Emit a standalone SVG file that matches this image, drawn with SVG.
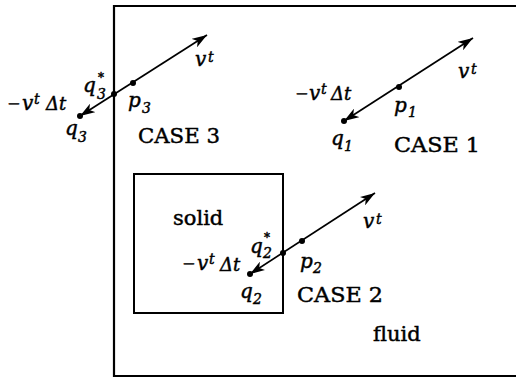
<svg xmlns="http://www.w3.org/2000/svg" width="516" height="379" viewBox="0 0 516 379">
<style>
.frame{fill:none;stroke:#000;stroke-width:2.2}
.box{fill:none;stroke:#000;stroke-width:2}
.vec{fill:none;stroke:#000;stroke-width:1.7}
.dot{fill:#000}
text{fill:#000;stroke:#000;stroke-width:0.45}
.m{font-family:"DejaVu Serif","Liberation Serif",serif;font-style:italic;font-size:20px}
.s{font-size:14px}
.st{font-size:12px}
.d{font-size:18px}
.up{font-style:normal;font-size:16px}
.r{font-family:"DejaVu Serif","Liberation Serif",serif;font-size:21px}
</style>
<defs>
<marker id="ah" markerWidth="16" markerHeight="10" refX="15" refY="5" orient="auto-start-reverse" markerUnits="userSpaceOnUse">
<path d="M0,0 L15,5 L0,10 L4,5 Z" fill="#000"/>
</marker>
</defs>
<rect width="516" height="379" fill="#fff"/>
<g id="fluid-domain">
<path class="frame" d="M516,6 H114 V376 H516"/>
<text class="r" x="373" y="341">fluid</text>
</g>
<g id="solid">
<rect class="box" x="134" y="174" width="149" height="139"/>
<text class="r" x="173" y="225">solid</text>
</g>
<g id="connectors">
<line class="vec" x1="80" y1="116" x2="207" y2="35" marker-start="url(#ah)" marker-end="url(#ah)"/>
<line class="vec" x1="344" y1="121" x2="473" y2="38" marker-start="url(#ah)" marker-end="url(#ah)"/>
<line class="vec" x1="250" y1="274" x2="375" y2="193" marker-start="url(#ah)" marker-end="url(#ah)"/>
</g>
<g id="case1">
<circle class="dot" cx="344" cy="121" r="3"/>
<circle class="dot" cx="399" cy="87" r="3"/>
<text class="m" x="458" y="78">v<tspan class="s" x="471" y="74">t</tspan></text>
<text class="m" x="295" y="100"><tspan class="up" x="295" y="99">−</tspan><tspan x="309" y="100">v</tspan><tspan class="s" x="321" y="94">t</tspan><tspan class="d" x="331" y="100">Δt</tspan></text>
<text class="m" x="394" y="112">p<tspan class="s" x="408" y="117">1</tspan></text>
<text class="m" x="331" y="145">q<tspan class="s" x="344" y="151">1</tspan></text>
<text class="r" x="394" y="152" textLength="86" lengthAdjust="spacingAndGlyphs">CASE 1</text>
</g>
<g id="case2">
<circle class="dot" cx="250" cy="274" r="3"/>
<circle class="dot" cx="283" cy="253" r="3"/>
<circle class="dot" cx="302" cy="241" r="3"/>
<text class="m" x="363" y="228">v<tspan class="s" x="376" y="224">t</tspan></text>
<text class="m" x="250" y="253">q<tspan class="s" x="263" y="258">2</tspan><tspan class="st" x="264" y="242">*</tspan></text>
<text class="m" x="182" y="270"><tspan class="up" x="182" y="269">−</tspan><tspan x="197" y="270">v</tspan><tspan class="s" x="209" y="264">t</tspan><tspan class="d" x="220" y="271">Δt</tspan></text>
<text class="m" x="300" y="268">p<tspan class="s" x="313" y="273">2</tspan></text>
<text class="m" x="240" y="298">q<tspan class="s" x="253" y="304">2</tspan></text>
<text class="r" x="297" y="302" textLength="86" lengthAdjust="spacingAndGlyphs">CASE 2</text>
</g>
<g id="case3">
<circle class="dot" cx="80" cy="116" r="3"/>
<circle class="dot" cx="114" cy="94" r="3"/>
<circle class="dot" cx="133" cy="83" r="3"/>
<text class="m" x="195" y="66">v<tspan class="s" x="208" y="62">t</tspan></text>
<text class="m" x="83" y="92">q<tspan class="s" x="97" y="99">3</tspan><tspan class="st" x="98" y="82">*</tspan></text>
<text class="m" x="7" y="110"><tspan class="up" x="7" y="109">−</tspan><tspan x="22" y="110">v</tspan><tspan class="s" x="34" y="104">t</tspan><tspan class="d" x="46" y="110">Δt</tspan></text>
<text class="m" x="128" y="107">p<tspan class="s" x="142" y="113">3</tspan></text>
<text class="m" x="65" y="135">q<tspan class="s" x="78" y="142">3</tspan></text>
<text class="r" x="138" y="143" textLength="82" lengthAdjust="spacingAndGlyphs">CASE 3</text>
</g>
</svg>
